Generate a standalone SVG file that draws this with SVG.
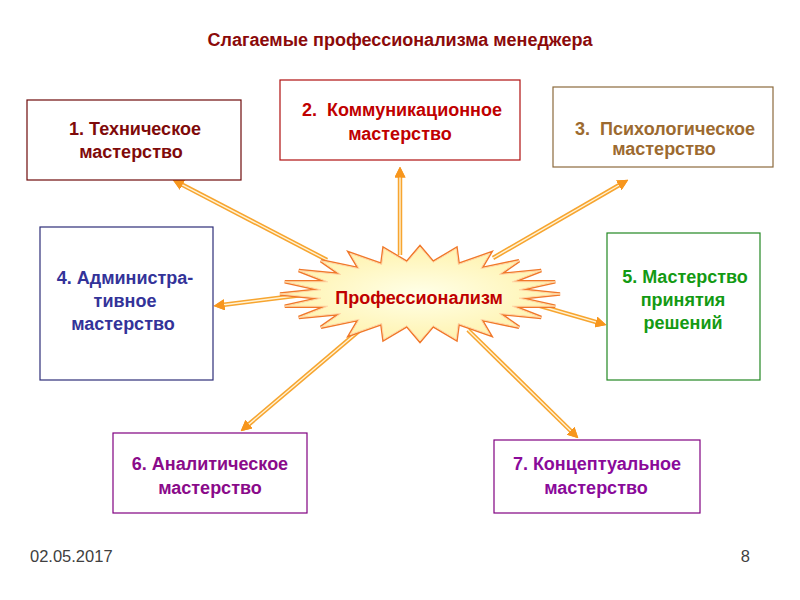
<svg xmlns="http://www.w3.org/2000/svg" xmlns:xlink="http://www.w3.org/1999/xlink" width="800" height="600" viewBox="0 0 800 600">
<style>
  text { font-family: "Liberation Sans", Arial, sans-serif; }
  .lbl { font-size: 18px; font-weight: bold; text-anchor: middle; }
  .box { fill: #ffffff; stroke-width: 1.2; }
  .aOut { stroke: #f7a530; stroke-width: 4.5; fill: none; marker-end: url(#ah); }
  .aIn { stroke: #fff3d6; stroke-width: 1.4; fill: none; marker-end: url(#ah); }
  .foot { font-size: 16.5px; fill: #404040; }
</style>
<defs>
  <marker id="ah" viewBox="0 0 10 10" refX="0.5" refY="5" markerWidth="11" markerHeight="11" markerUnits="userSpaceOnUse" orient="auto">
    <path d="M0,0 L10,5 L0,10 z" fill="#f7961d"/>
  </marker>
  <radialGradient id="sg" cx="0.5" cy="0.5" r="0.5">
    <stop offset="0" stop-color="#ffffe8"/>
    <stop offset="1" stop-color="#fff3b0"/>
  </radialGradient>
  <polygon id="starShape" points="560,294 519.1,298.2 555.2,306.2 512.4,306.2 541.2,317.5 499.3,313.5 519,327.2 480.9,319.4 490,334.7 458.3,323.6 456.2,339.4 433.1,325.7 420,341 406.9,325.7 383.8,339.4 381.7,323.6 350,334.7 359.1,319.4 321,327.2 340.7,313.5 298.8,317.5 327.6,306.2 284.8,306.2 320.9,298.2 280,294 320.9,289.8 284.8,281.8 327.6,281.8 298.8,270.5 340.7,274.5 321,260.8 359.1,268.6 350,253.3 381.7,264.4 383.8,248.6 406.9,262.3 420,247 433.1,262.3 456.2,248.6 458.3,264.4 490,253.3 480.9,268.6 519,260.8 499.3,274.5 541.2,270.5 512.4,281.8 555.2,281.8 519.1,289.8"/>
</defs>
<rect width="800" height="600" fill="#ffffff"/>

<text x="400" y="46" text-anchor="middle" font-size="18" font-weight="bold" fill="#8b0a0a">Слагаемые профессионализма менеджера</text>

<g id="connectors">
  <line class="aOut" x1="327" y1="260" x2="181.9" y2="184.6"/>
  <line class="aIn" x1="327" y1="260" x2="181.9" y2="184.6"/>
  <line class="aOut" x1="400" y1="255" x2="400" y2="177"/>
  <line class="aIn" x1="400" y1="255" x2="400" y2="177"/>
  <line class="aOut" x1="493" y1="258" x2="619.3" y2="185"/>
  <line class="aIn" x1="493" y1="258" x2="619.3" y2="185"/>
  <line class="aOut" x1="318" y1="293" x2="223.9" y2="304.8"/>
  <line class="aIn" x1="318" y1="293" x2="223.9" y2="304.8"/>
  <line class="aOut" x1="537" y1="305" x2="596.4" y2="322.2"/>
  <line class="aIn" x1="537" y1="305" x2="596.4" y2="322.2"/>
  <line class="aOut" x1="360" y1="330" x2="248.6" y2="424.5"/>
  <line class="aIn" x1="360" y1="330" x2="248.6" y2="424.5"/>
  <line class="aOut" x1="468" y1="330" x2="570.9" y2="431"/>
  <line class="aIn" x1="468" y1="330" x2="570.9" y2="431"/>
</g>

<g id="star">
  <use xlink:href="#starShape" fill="url(#sg)" stroke="#f0782a" stroke-width="3.5" stroke-linejoin="miter"/>
  <use xlink:href="#starShape" fill="url(#sg)" stroke="#ffd7a8" stroke-width="1"/>
  <text x="419" y="304" text-anchor="middle" font-size="18" font-weight="bold" fill="#c00000">Профессионализм</text>
</g>

<g id="n1">
  <rect class="box" x="27" y="100" width="214" height="80" stroke="#6e0a0a"/>
  <text class="lbl" fill="#7f0a0a"><tspan x="135" y="135">1. Техническое</tspan><tspan x="131" y="158">мастерство</tspan></text>
</g>
<g id="n2">
  <rect class="box" x="280" y="80" width="240" height="80" stroke="#b01010"/>
  <text class="lbl" fill="#c00000" xml:space="preserve"><tspan x="402" y="116">2.  Коммуникационное</tspan><tspan x="400" y="140">мастерство</tspan></text>
</g>
<g id="n3">
  <rect class="box" x="553" y="87" width="220" height="80" stroke="#8c6a3c"/>
  <text class="lbl" fill="#9c6a30" xml:space="preserve"><tspan x="665" y="135">3.  Психологическое</tspan><tspan x="664" y="155">мастерство</tspan></text>
</g>
<g id="n4">
  <rect class="box" x="40" y="227" width="173" height="153" stroke="#2e2e78"/>
  <text class="lbl" fill="#333399"><tspan x="125" y="284">4. Администра-</tspan><tspan x="125" y="307">тивное</tspan><tspan x="123" y="330">мастерство</tspan></text>
</g>
<g id="n5">
  <rect class="box" x="607" y="233" width="153" height="147" stroke="#228822"/>
  <text class="lbl" fill="#139a13"><tspan x="685" y="283">5. Мастерство</tspan><tspan x="683" y="306">принятия</tspan><tspan x="683" y="329">решений</tspan></text>
</g>
<g id="n6">
  <rect class="box" x="113" y="433" width="194" height="80" stroke="#800080"/>
  <text class="lbl" fill="#8a0a8a"><tspan x="210" y="470">6. Аналитическое</tspan><tspan x="210" y="494">мастерство</tspan></text>
</g>
<g id="n7">
  <rect class="box" x="494" y="440" width="206" height="73" stroke="#800080"/>
  <text class="lbl" fill="#8a0a9a"><tspan x="597" y="470">7. Концептуальное</tspan><tspan x="596" y="494">мастерство</tspan></text>
</g>

<text class="foot" x="30" y="562">02.05.2017</text>
<text class="foot" x="750" y="562" text-anchor="end">8</text>
</svg>
